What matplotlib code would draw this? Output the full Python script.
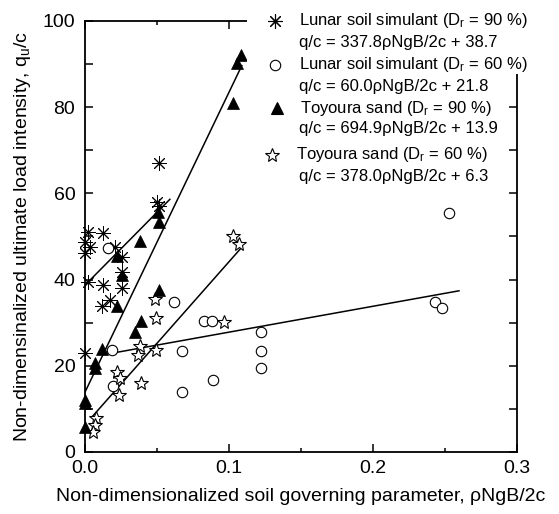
import matplotlib
matplotlib.use("Agg")
import matplotlib.pyplot as plt
from matplotlib.patches import Rectangle
from matplotlib.lines import Line2D
import numpy as np

plt.rcParams['font.family'] = ['Liberation Sans', 'DejaVu Sans']
plt.rcParams['mathtext.fontset'] = 'custom'
plt.rcParams['mathtext.rm'] = 'Liberation Sans'
plt.rcParams['mathtext.it'] = 'Liberation Sans:italic'

# Lunar soil simulant, Dr = 90 %
lunar90_x = [0.0515, 0.050, 0.0515, 0.0023, 0.0127, 0.0, 0.0035, 0.0, 0.0209,
             0.0255, 0.0255, 0.0023, 0.0127, 0.0255, 0.0174, 0.0116, 0.0]
lunar90_y = [67.0, 58.1, 57.1, 51.1, 50.7, 48.8, 47.6, 46.1, 47.6,
             45.3, 41.8, 39.5, 38.7, 38.0, 35.3, 33.9, 23.0]
# Lunar soil simulant, Dr = 60 %
lunar60_x = [0.0162, 0.0621, 0.0827, 0.0885, 0.0185, 0.0672, 0.1224, 0.1224,
             0.1224, 0.0892, 0.0672, 0.0197, 0.2531, 0.2433, 0.2484]
lunar60_y = [47.3, 34.7, 30.5, 30.5, 23.7, 23.5, 27.8, 23.5,
             19.4, 16.7, 14.0, 15.3, 55.5, 34.7, 33.3]
# Toyoura sand, Dr = 90 %
toy90_x = [0.1085, 0.1055, 0.103, 0.051, 0.0514, 0.0382, 0.022, 0.0255, 0.0225,
           0.0514, 0.039, 0.0348, 0.0116, 0.007, 0.007, 0.0, 0.0, 0.0]
toy90_y = [92.1, 90.3, 81.0, 55.8, 53.4, 49.0, 45.5, 41.1, 33.9,
           37.7, 30.5, 27.8, 23.9, 20.7, 19.4, 12.1, 11.4, 5.7]
# Toyoura sand, Dr = 60 %
toy60_x = [0.1031, 0.1073, 0.0487, 0.0491, 0.0968, 0.038, 0.0369, 0.0491,
           0.0225, 0.0241, 0.0234, 0.0392, 0.0079, 0.0067, 0.0056]
toy60_y = [50.0, 48.3, 35.5, 31.0, 30.2, 24.7, 22.5, 23.7,
           18.6, 17.1, 13.2, 15.9, 7.8, 6.3, 4.7]

# fitted lines: slope, intercept, x range
fits = {
    'lunar90': (337.8, 38.7, 0.0, 0.059),
    'lunar60': (60.0, 21.8, 0.018, 0.26),
    'toy90': (694.9, 13.9, 0.0, 0.109),
    'toy60': (378.0, 6.3, 0.0046, 0.108),
}

W, H = 559, 514
fig = plt.figure(figsize=(W / 100, H / 100), dpi=100)
ax = fig.add_axes([85 / W, 1 - 452 / H, 431.5 / W, 431 / H])

star8 = (8, 2, 0)
ax.plot(lunar90_x, lunar90_y, ls='none', marker=star8, ms=10.5, mew=0.7,
        color='black', clip_on=False, zorder=3)
ax.plot(lunar60_x, lunar60_y, ls='none', marker='o', ms=7.5, mew=0.8,
        mfc='white', mec='black', clip_on=False, zorder=3)
ax.plot(toy90_x, toy90_y, ls='none', marker='^', ms=8, mew=0.5,
        color='black', clip_on=False, zorder=4)
ax.plot(toy60_x, toy60_y, ls='none', marker='*', ms=10.5, mew=0.8,
        mfc='white', mec='black', clip_on=False, zorder=3)

for k, (a, b, x0, x1) in fits.items():
    xs = np.array([x0, x1])
    ax.plot(xs, a * xs + b, color='black', lw=1.1, zorder=2)

ax.set_xlim(0, 0.3)
ax.set_ylim(0, 100)
ax.set_xticks([0.0, 0.1, 0.2, 0.3])
ax.set_xticklabels(['0.0', '0.1', '0.2', '0.3'])
ax.set_xticks([0.05, 0.15, 0.25], minor=True)
ax.set_yticks([0, 20, 40, 60, 80, 100])
ax.set_yticks([10, 30, 50, 70, 90], minor=True)
ax.tick_params(which='both', direction='in', top=True, right=True,
               labelsize=14, width=1.1)
ax.tick_params(axis='x', which='major', length=6, pad=6)
ax.tick_params(axis='x', which='minor', length=3)
ax.tick_params(axis='y', which='both', length=6, pad=7)
for s in ax.spines.values():
    s.set_linewidth(1.3)

ax.set_xlabel('Non-dimensionalized soil governing parameter, \u03c1NgB/2c',
              fontsize=14, labelpad=8)
ax.set_ylabel('Non-dimensinalized ultimate load intensity, q$_\\mathrm{u}$/c',
              fontsize=14, labelpad=7)

# legend block (white box over the spines)
def fx(px):
    return px / W

def fy(py):
    return 1 - py / H

fig.add_artist(Rectangle((fx(247), fy(74)), (535 - 247) / W, (74 - 8) / H,
                         transform=fig.transFigure, fc='white', ec='none',
                         zorder=3))

entries = [
    (star8, 'black', 'black', 275, 21, 299,
     'Lunar soil simulant (D$_\\mathrm{r}$ = 90 %)',
     'q/c = 337.8\u03c1NgB/2c + 38.7', 10.5),
    ('o', 'white', 'black', 275, 65, 299,
     'Lunar soil simulant (D$_\\mathrm{r}$ = 60 %)',
     'q/c = 60.0\u03c1NgB/2c + 21.8', 7.5),
    ('^', 'black', 'black', 277, 108, 300,
     'Toyoura sand (D$_\\mathrm{r}$ = 90 %)',
     'q/c = 694.9\u03c1NgB/2c + 13.9', 8),
    ('*', 'white', 'black', 272, 155, 296,
     'Toyoura sand (D$_\\mathrm{r}$ = 60 %)',
     'q/c = 378.0\u03c1NgB/2c + 6.3', 10.5),
]
for mk, mfc, mec, mx, my, tx, t1, t2, ms in entries:
    fig.add_artist(Line2D([fx(mx)], [fy(my)], marker=mk, ms=ms, mfc=mfc,
                          mec=mec, color='black', mew=0.8, ls='none',
                          transform=fig.transFigure, zorder=5))
    fig.text(fx(tx), fy(my), t1, fontsize=12, va='center', ha='left',
             zorder=5)
    fig.text(fx(299), fy(my + 21), t2, fontsize=12, va='center', ha='left',
             zorder=5)

fig.savefig('out.png', dpi=100)
